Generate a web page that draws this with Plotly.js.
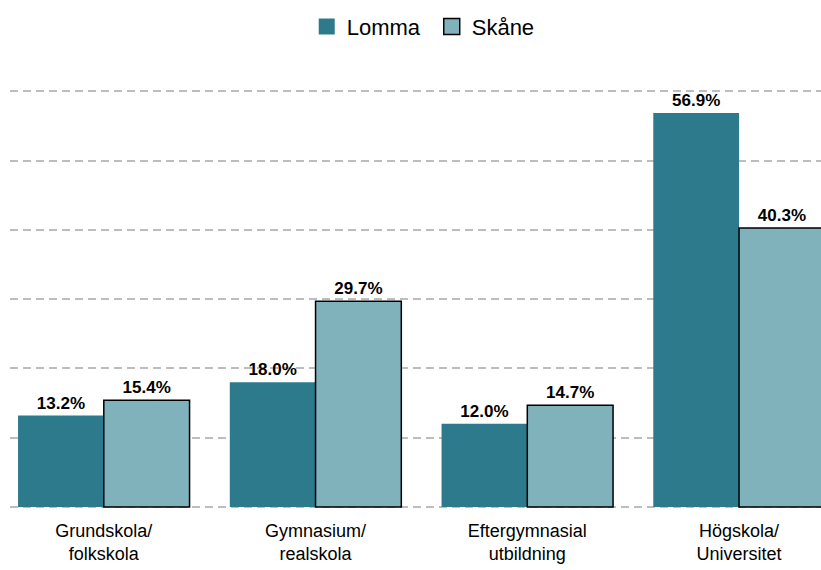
<!DOCTYPE html>
<html>
<head>
<meta charset="utf-8">
<script src="https://cdn.plot.ly/plotly-3.0.1.min.js"></script>
<style>
  html, body { margin: 0; padding: 0; background: #ffffff; }
  #chart { width: 821px; height: 570px; }
</style>
</head>
<body>
<div id="chart"></div>
<script>
// utbildningsnivå, andel av befolkningen
const categories = ['Grundskola/<br>folkskola', 'Gymnasium/<br>realskola', 'Eftergymnasial<br>utbildning', 'Högskola/<br>Universitet'];
const lomma = [13.2, 18.0, 12.0, 56.9];
const skane = [15.4, 29.7, 14.7, 40.3];

const lommaColor = '#2E7A8D';
const skaneColor = '#7FB2BB';
const fmt = v => v.toFixed(1) + '%';
const labelFont = { family: 'Liberation Sans, Arial, sans-serif', size: 17, color: '#000000', weight: 'bold' };

const data = [
  {
    type: 'bar',
    name: 'Lomma',
    x: categories,
    y: lomma,
    text: lomma.map(fmt),
    textposition: 'outside',
    cliponaxis: false,
    textfont: labelFont,
    marker: { color: lommaColor, line: { width: 0 } },
    showlegend: false,
    hoverinfo: 'skip'
  },
  {
    type: 'bar',
    name: 'Skåne',
    x: categories,
    y: skane,
    text: skane.map(fmt),
    textposition: 'outside',
    cliponaxis: false,
    textfont: labelFont,
    marker: { color: skaneColor, line: { color: '#000000', width: 1.5 } },
    showlegend: false,
    hoverinfo: 'skip'
  },
  // legend-only entries so the squares can be bigger
  {
    type: 'scatter', mode: 'markers', name: 'Lomma',
    x: [null], y: [null],
    marker: { symbol: 'square', size: 16, color: lommaColor, line: { width: 0 } }
  },
  {
    type: 'scatter', mode: 'markers', name: 'Skåne',
    x: [null], y: [null],
    marker: { symbol: 'square', size: 16, color: skaneColor, line: { color: '#000000', width: 1.5 } }
  }
];

const layout = {
  width: 821,
  height: 570,
  paper_bgcolor: '#ffffff',
  plot_bgcolor: '#ffffff',
  font: { family: 'Liberation Sans, Arial, sans-serif', color: '#000000' },
  margin: { l: 10, r: 0, t: 88, b: 62 },
  barmode: 'group',
  bargap: 0.19,
  bargroupgap: 0,
  showlegend: true,
  legend: {
    orientation: 'h',
    x: 0.52,
    xanchor: 'center',
    y: 0.953,
    yref: 'container',
    yanchor: 'middle',
    font: { size: 22, color: '#000000' },
    itemsizing: 'trace',
    itemwidth: 30,
    entrywidth: 80,
    tracegroupgap: 0
  },
  xaxis: {
    type: 'category',
    range: [-0.443, 3.387],
    showgrid: false,
    zeroline: false,
    showline: false,
    ticks: '',
    ticklabelstandoff: 10,
    tickfont: { size: 18, color: '#000000' }
  },
  yaxis: {
    range: [-0.15, 60.5],
    tickvals: [0, 10, 20, 30, 40, 50, 60],
    showticklabels: false,
    showgrid: true,
    gridcolor: '#BDBDBD',
    gridwidth: 2,
    griddash: '8px,5px',
    zeroline: false,
    showline: false,
    ticks: ''
  }
};

Plotly.newPlot('chart', data, layout, { displayModeBar: false, staticPlot: true });
</script>
</body>
</html>
